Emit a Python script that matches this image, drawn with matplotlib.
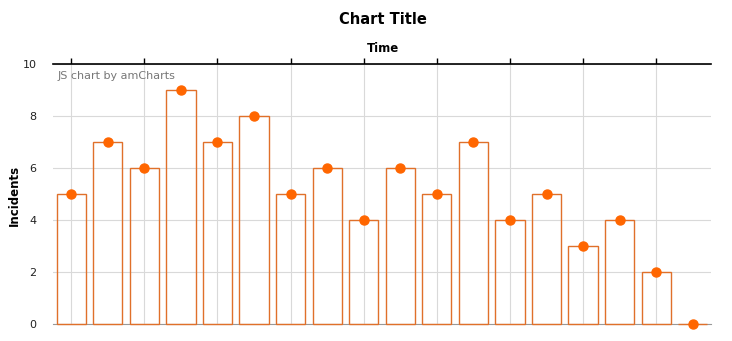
import numpy as np
import matplotlib
matplotlib.use('Agg')
import matplotlib.pyplot as plt

# incidents per time slot
categories = list(range(18))
incidents = [5, 7, 6, 9, 7, 8, 5, 6, 4, 6, 5, 7, 4, 5, 3, 4, 2, 0]
yticks = [0, 2, 4, 6, 8, 10]

fig = plt.figure(figsize=(7.32, 3.41), dpi=100)
ax = fig.add_axes([53 / 732, 1 - 324 / 341, 658 / 732, 260 / 341])

x = np.array(categories)
bars = ax.bar(x, incidents, width=0.8, facecolor='none', edgecolor='#E0702A', linewidth=1.0, zorder=3)
for b in bars:
    b.set_clip_on(False)
ax.plot(x, incidents, 'o', color='#FF6600', markersize=6.5, zorder=4, clip_on=False)

ax.set_xlim(-0.5, len(categories) - 0.5)
ax.set_ylim(0, 10)
ax.set_yticks(yticks)
ax.set_yticklabels([str(v) for v in yticks], fontsize=8, color='#222222')

# top category axis, grid every other category
ax.xaxis.tick_top()
ax.set_xticks(x[::2])
ax.set_xticklabels([])
ax.tick_params(axis='x', direction='out', length=4, width=1, color='black')
ax.tick_params(axis='y', length=0, pad=12)
ax.grid(True, color='#d9d9d9', linewidth=0.8, zorder=0)

for s in ['left', 'right']:
    ax.spines[s].set_visible(False)
ax.spines['top'].set_color('black')
ax.spines['top'].set_linewidth(1.2)
ax.spines['bottom'].set_color('#999999')
ax.spines['bottom'].set_linewidth(0.8)
ax.spines['bottom'].set_zorder(1)

fig.text(383 / 732, 1 - 20 / 341, 'Chart Title', ha='center', va='center', fontsize=10.5, fontweight='bold')
fig.text(383 / 732, 1 - 48 / 341, 'Time', ha='center', va='center', fontsize=8.5, fontweight='bold')
fig.text(14 / 732, 1 - 195 / 341, 'Incidents', ha='center', va='center', rotation=90, fontsize=8.5, fontweight='bold')
fig.text(58 / 732, 1 - 76 / 341, 'JS chart by amCharts', ha='left', va='center', fontsize=8, color='#777777')

plt.savefig('out.png', dpi=100)
